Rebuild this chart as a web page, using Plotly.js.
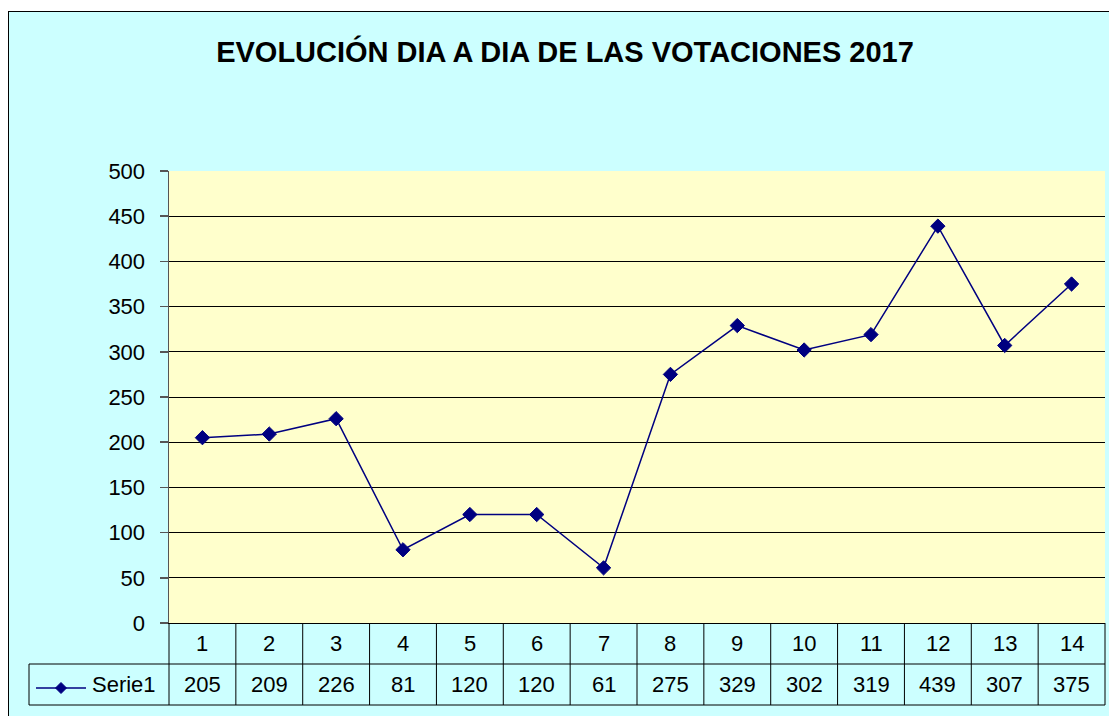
<!DOCTYPE html>
<html>
<head>
<meta charset="utf-8">
<script src="https://cdn.plot.ly/plotly-3.0.1.min.js"></script>
<style>html,body{margin:0;padding:0;background:#fff;}#chart{width:1109px;height:716px;}</style>
</head>
<body>
<div id="chart"></div>
<script>
const categories = [1,2,3,4,5,6,7,8,9,10,11,12,13,14];
const serie1 = [205,209,226,81,120,120,61,275,329,302,319,439,307,375];
const seriesName = "Serie1";
const titleText = "EVOLUCIÓN DIA A DIA DE LAS VOTACIONES 2017";

const W = 1109, H = 716;
const L = 169, R = 1105, T = 171, B = 623;
const pw = R - L, ph = B - T;
const px = x => (x - L) / pw;
const py = y => (B - y) / ph;
const FONT = "Liberation Sans, Arial, sans-serif";
const navy = "#000080";
const n = categories.length;
const colW = pw / n;
const row1Top = 623, row1Bot = 664, row2Bot = 705, tableLeft = 29;
const TXT = 22;

const shapes = [];
const annotations = [];
const lineStyle = {color: "#000000", width: 1};

// white outside the chart border
shapes.push({type: "rect", xref: "paper", yref: "paper", x0: px(0), x1: px(W), y0: py(0), y1: py(11), fillcolor: "#ffffff", line: {width: 0}, layer: "below"});
shapes.push({type: "rect", xref: "paper", yref: "paper", x0: px(0), x1: px(8), y0: py(0), y1: py(H), fillcolor: "#ffffff", line: {width: 0}, layer: "below"});
// chart border
shapes.push({type: "line", xref: "paper", yref: "paper", x0: px(8.5), x1: px(8.5), y0: py(11), y1: py(H), line: {color: "#000", width: 1}});
shapes.push({type: "line", xref: "paper", yref: "paper", x0: px(8), x1: px(W), y0: py(11.5), y1: py(11.5), line: {color: "#000", width: 1}});

// data table lines
shapes.push({type: "line", xref: "paper", yref: "paper", x0: px(tableLeft), x1: px(R), y0: py(row1Bot), y1: py(row1Bot), line: lineStyle});
shapes.push({type: "line", xref: "paper", yref: "paper", x0: px(tableLeft), x1: px(R), y0: py(row2Bot), y1: py(row2Bot), line: lineStyle});
shapes.push({type: "line", xref: "paper", yref: "paper", x0: px(tableLeft), x1: px(tableLeft), y0: py(row1Bot), y1: py(row2Bot), line: lineStyle});
for (let i = 0; i <= n; i++) {
  const x = L + i * colW;
  shapes.push({type: "line", xref: "paper", yref: "paper", x0: px(x), x1: px(x), y0: py(row1Top), y1: py(row2Bot), line: lineStyle});
}

// table text
for (let i = 0; i < n; i++) {
  const cx = px(L + (i + 0.5) * colW);
  annotations.push({xref: "paper", yref: "paper", x: cx, y: py((row1Top + row1Bot) / 2), text: String(categories[i]), showarrow: false, xanchor: "center", yanchor: "middle", font: {family: FONT, size: TXT, color: "#000"}});
  annotations.push({xref: "paper", yref: "paper", x: cx, y: py((row1Bot + row2Bot) / 2), text: String(serie1[i]), showarrow: false, xanchor: "center", yanchor: "middle", font: {family: FONT, size: TXT, color: "#000"}});
}
// legend key in table
const ky = 688;
shapes.push({type: "line", xref: "paper", yref: "paper", x0: px(36), x1: px(86), y0: py(ky), y1: py(ky), line: {color: navy, width: 1.5}});
const dx = 5.5 / pw, dy = 5.5 / ph, kx = px(61), kyy = py(ky);
shapes.push({type: "path", xref: "paper", yref: "paper", path: `M ${kx - dx} ${kyy} L ${kx} ${kyy + dy} L ${kx + dx} ${kyy} L ${kx} ${kyy - dy} Z`, fillcolor: navy, line: {color: navy, width: 1}});
annotations.push({xref: "paper", yref: "paper", x: px(90), y: py((row1Bot + row2Bot) / 2), text: seriesName, showarrow: false, xanchor: "left", yanchor: "middle", font: {family: FONT, size: TXT, color: "#000"}});

const trace = {
  x: categories,
  y: serie1,
  type: "scatter",
  mode: "lines+markers",
  name: seriesName,
  line: {color: navy, width: 1.5},
  marker: {symbol: "diamond", size: 11, color: navy, line: {color: navy, width: 1}},
  cliponaxis: false,
  hoverinfo: "x+y"
};

const layout = {
  width: W, height: H,
  margin: {l: L, r: W - R, t: T, b: H - B, pad: 0},
  paper_bgcolor: "#CCFFFF",
  plot_bgcolor: "#FFFFCC",
  showlegend: false,
  title: {
    text: "<b>" + titleText + "</b>",
    xref: "container", yref: "container",
    x: 565 / W, y: 1 - 52 / H, xanchor: "center", yanchor: "middle",
    font: {family: FONT, size: 29, color: "#000"}
  },
  xaxis: {
    range: [0.5, n + 0.5],
    showgrid: false, zeroline: false,
    showline: true, linecolor: "#000", linewidth: 1,
    showticklabels: false, ticks: "",
    fixedrange: true
  },
  yaxis: {
    range: [0, 500], tick0: 0, dtick: 50,
    showgrid: true, gridcolor: "#000", gridwidth: 1,
    zeroline: false,
    showline: true, linecolor: "#555", linewidth: 1.5,
    ticks: "outside", ticklen: 8, tickcolor: "#555", tickwidth: 1.5,
    ticklabelstandoff: 10,
    tickfont: {family: FONT, size: TXT, color: "#000"},
    fixedrange: true
  },
  shapes: shapes,
  annotations: annotations
};

Plotly.newPlot("chart", [trace], layout, {displayModeBar: false, staticPlot: true});
</script>
</body>
</html>
